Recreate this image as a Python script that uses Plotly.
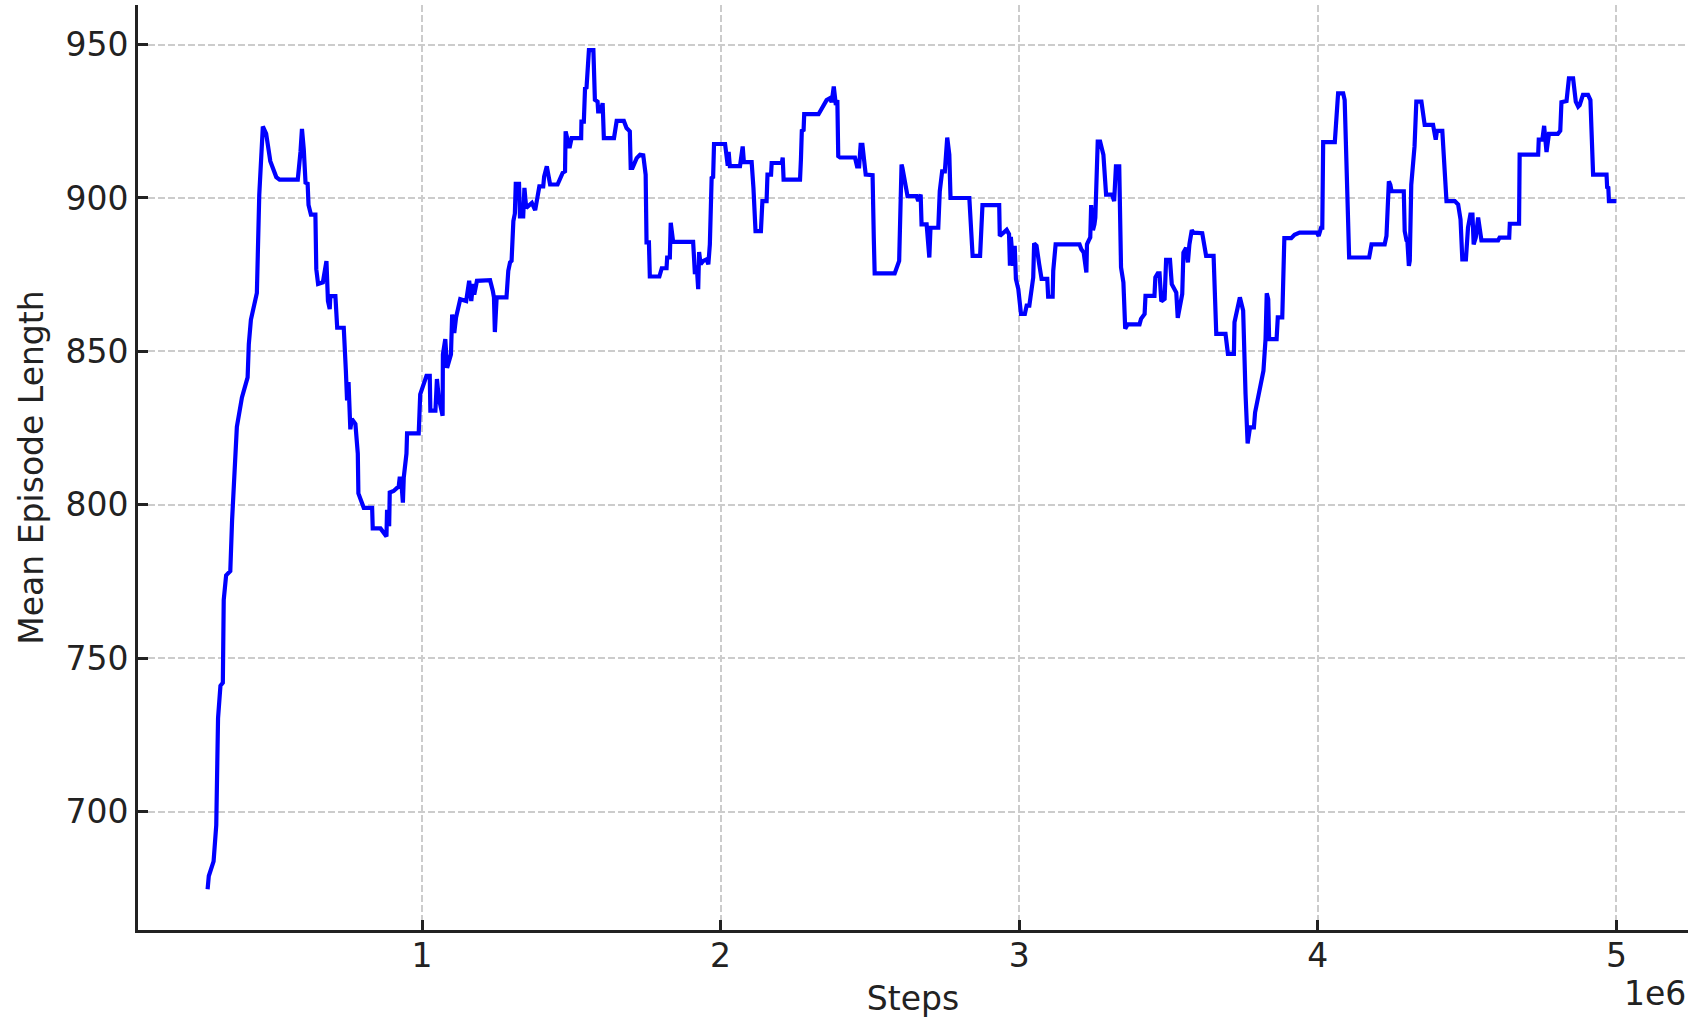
import plotly.graph_objects as go

# training curve (steps, mean episode length)
steps = [
    282000, 286000, 302000, 311000, 317000, 325000, 333000, 336000, 344000, 358000,
    364000, 380000, 397000, 416000, 420000, 427000, 447000, 455000, 467000, 478000,
    492000, 501000, 512000, 523000, 584000, 593000, 598000, 604000, 610000, 617000,
    620000, 628000, 643000, 646000, 652000, 668000, 680000, 685000, 691000, 693000,
    710000, 716000, 738000, 745000, 749000, 754000, 760000, 765000, 777000, 785000,
    787000, 805000, 833000, 835000, 861000, 881000, 883000, 890000, 892000, 905000,
    922000, 925000, 930000, 936000, 939000, 948000, 950000, 989000, 994000, 1015000,
    1026000, 1028000, 1045000, 1050000, 1056000, 1069000, 1070000, 1078000, 1084000, 1097000,
    1101000, 1108000, 1114000, 1128000, 1148000, 1158000, 1165000, 1171000, 1175000, 1184000,
    1228000, 1237000, 1241000, 1244000, 1250000, 1283000, 1289000, 1295000, 1300000, 1306000,
    1311000, 1314000, 1325000, 1328000, 1339000, 1343000, 1349000, 1368000, 1379000, 1393000,
    1406000, 1409000, 1418000, 1429000, 1454000, 1471000, 1479000, 1481000, 1494000, 1501000,
    1533000, 1534000, 1542000, 1546000, 1551000, 1559000, 1574000, 1579000, 1588000, 1590000,
    1598000, 1605000, 1609000, 1643000, 1652000, 1676000, 1685000, 1696000, 1699000, 1705000,
    1719000, 1730000, 1741000, 1749000, 1752000, 1760000, 1763000, 1795000, 1803000, 1819000,
    1821000, 1830000, 1833000, 1841000, 1908000, 1914000, 1920000, 1925000, 1928000, 1933000,
    1942000, 1953000, 1959000, 1964000, 1970000, 1975000, 1978000, 2015000, 2020000, 2024000,
    2027000, 2031000, 2065000, 2074000, 2078000, 2104000, 2110000, 2117000, 2135000, 2140000,
    2154000, 2157000, 2169000, 2171000, 2205000, 2208000, 2211000, 2266000, 2269000, 2272000,
    2278000, 2280000, 2328000, 2355000, 2366000, 2372000, 2379000, 2386000, 2391000, 2394000,
    2400000, 2450000, 2457000, 2464000, 2469000, 2475000, 2486000, 2509000, 2513000, 2516000,
    2583000, 2591000, 2598000, 2606000, 2609000, 2626000, 2656000, 2662000, 2670000, 2673000,
    2690000, 2699000, 2703000, 2729000, 2734000, 2742000, 2751000, 2759000, 2766000, 2770000,
    2833000, 2844000, 2869000, 2877000, 2933000, 2935000, 2958000, 2966000, 2969000, 2972000,
    2980000, 2985000, 2989000, 2997000, 3006000, 3019000, 3025000, 3034000, 3041000, 3047000,
    3050000, 3058000, 3067000, 3075000, 3094000, 3097000, 3112000, 3114000, 3122000, 3202000,
    3208000, 3216000, 3225000, 3227000, 3233000, 3238000, 3241000, 3247000, 3252000, 3255000,
    3263000, 3271000, 3282000, 3291000, 3311000, 3318000, 3324000, 3335000, 3341000, 3349000,
    3355000, 3363000, 3403000, 3408000, 3420000, 3423000, 3453000, 3456000, 3464000, 3470000,
    3476000, 3487000, 3492000, 3505000, 3511000, 3526000, 3531000, 3539000, 3546000, 3550000,
    3559000, 3565000, 3570000, 3578000, 3584000, 3613000, 3626000, 3651000, 3654000, 3660000,
    3691000, 3699000, 3719000, 3721000, 3739000, 3750000, 3758000, 3765000, 3773000, 3786000,
    3790000, 3806000, 3818000, 3825000, 3829000, 3834000, 3837000, 3862000, 3866000, 3881000,
    3888000, 3911000, 3922000, 3939000, 3997000, 4003000, 4011000, 4015000, 4018000, 4057000,
    4068000, 4085000, 4090000, 4105000, 4172000, 4180000, 4224000, 4230000, 4238000, 4243000,
    4247000, 4288000, 4291000, 4297000, 4300000, 4305000, 4308000, 4313000, 4324000, 4330000,
    4347000, 4358000, 4386000, 4395000, 4399000, 4417000, 4425000, 4431000, 4459000, 4470000,
    4478000, 4484000, 4496000, 4503000, 4511000, 4518000, 4522000, 4529000, 4537000, 4548000,
    4604000, 4609000, 4641000, 4643000, 4674000, 4676000, 4738000, 4740000, 4752000, 4758000,
    4766000, 4774000, 4804000, 4812000, 4816000, 4833000, 4841000, 4855000, 4864000, 4872000,
    4877000, 4888000, 4905000, 4913000, 4922000, 4967000, 4969000, 4973000, 4975000, 5000000,
]
mean_ep_len = [
    674.7, 679.0, 683.8, 695.6, 730.5, 741.0, 742.0, 769.0, 777.0, 778.4,
    795.0, 825.4, 835.0, 841.5, 852.4, 860.3, 869.0, 901.0, 923.3, 921.0,
    912.0, 910.0, 906.8, 906.0, 906.0, 915.0, 922.5, 916.0, 905.0, 904.7,
    897.7, 894.6, 894.6, 876.8, 872.0, 872.5, 879.4, 866.4, 863.8, 868.0,
    868.0, 857.7, 857.7, 843.7, 834.0, 840.0, 824.6, 828.0, 826.3, 816.7,
    803.7, 799.0, 799.0, 792.3, 792.3, 789.7, 798.4, 793.0, 804.0, 804.5,
    806.0, 808.5, 808.5, 800.7, 809.0, 816.7, 823.3, 823.3, 836.0, 842.0,
    842.0, 830.7, 830.7, 841.0, 835.0, 829.0, 849.0, 854.0, 844.6, 849.0,
    862.0, 856.0, 861.0, 867.0, 866.4, 873.0, 866.4, 872.0, 868.5, 873.0,
    873.2, 869.8, 867.6, 856.3, 867.6, 867.6, 876.3, 879.0, 879.5, 892.5,
    894.9, 904.6, 904.6, 894.0, 894.0, 903.3, 896.8, 898.4, 896.0, 903.8,
    903.8, 907.0, 910.3, 904.4, 904.4, 908.2, 908.7, 921.7, 916.3, 919.5,
    919.5, 924.9, 924.9, 935.7, 936.0, 948.2, 948.2, 932.0, 931.4, 928.2,
    928.2, 930.9, 919.5, 919.5, 925.1, 925.1, 922.8, 921.7, 909.8, 909.8,
    913.0, 914.1, 913.9, 907.6, 885.5, 885.5, 874.4, 874.4, 877.1, 877.1,
    880.6, 880.6, 891.9, 885.7, 885.7, 875.2, 878.0, 870.3, 882.4, 878.4,
    879.5, 880.0, 878.4, 884.9, 906.5, 906.8, 917.6, 917.6, 912.0, 910.5,
    915.0, 910.4, 910.4, 916.8, 911.7, 911.7, 903.3, 889.2, 889.2, 899.0,
    899.0, 907.6, 907.6, 911.4, 911.4, 913.2, 906.0, 906.0, 912.5, 921.9,
    922.2, 927.3, 927.3, 931.9, 932.5, 931.2, 936.3, 930.3, 931.9, 913.6,
    913.2, 913.2, 910.3, 910.3, 917.3, 917.3, 907.6, 907.4, 887.1, 875.4,
    875.4, 877.4, 879.5, 910.9, 909.8, 900.6, 900.6, 899.0, 901.1, 891.4,
    891.4, 880.6, 890.3, 890.3, 902.2, 908.7, 908.7, 919.7, 914.1, 900.0,
    900.0, 881.1, 881.1, 897.7, 897.7, 887.6, 889.6, 888.2, 877.9, 887.3,
    877.9, 884.4, 873.6, 870.3, 862.2, 862.2, 864.9, 864.9, 870.9, 874.1,
    885.2, 884.4, 878.4, 873.6, 873.6, 867.8, 867.8, 876.3, 884.9, 884.9,
    883.3, 882.2, 875.7, 884.9, 886.2, 887.1, 897.7, 889.5, 891.4, 893.6,
    918.4, 918.4, 914.1, 901.1, 901.1, 899.0, 910.3, 910.3, 877.4, 872.5,
    857.4, 858.8, 858.8, 860.6, 862.2, 868.1, 868.1, 874.1, 875.4, 875.4,
    866.3, 867.1, 879.8, 879.8, 871.9, 869.2, 860.9, 865.5, 868.7, 882.2,
    883.8, 879.0, 884.9, 889.5, 888.7, 888.5, 881.1, 881.1, 868.7, 855.7,
    855.7, 849.2, 849.2, 859.5, 867.6, 863.3, 836.1, 820.0, 825.2, 825.2,
    830.1, 837.7, 843.7, 854.0, 868.9, 867.0, 854.0, 854.0, 861.1, 861.1,
    886.9, 886.9, 888.0, 888.7, 888.7, 887.6, 890.3, 890.3, 918.2, 918.2,
    934.1, 934.1, 931.9, 880.6, 880.6, 884.9, 884.9, 887.6, 905.4, 904.3,
    902.2, 902.2, 889.2, 886.2, 886.0, 877.9, 879.5, 904.3, 916.8, 931.4,
    931.4, 923.8, 923.8, 919.0, 921.9, 921.9, 906.5, 899.0, 899.0, 897.9,
    893.0, 880.0, 880.0, 890.3, 894.6, 894.6, 884.9, 887.1, 893.6, 886.2,
    886.2, 887.1, 887.1, 891.6, 891.6, 914.1, 914.1, 919.0, 919.0, 923.5,
    915.0, 920.9, 920.9, 921.9, 931.2, 931.6, 939.0, 939.0, 931.4, 929.8,
    930.3, 933.6, 933.6, 931.9, 907.6, 907.6, 903.5, 903.3, 899.0, 899.0,
]

x_ticks = [1000000, 2000000, 3000000, 4000000, 5000000]
x_ticktext = ["1", "2", "3", "4", "5"]
y_ticks = [700, 750, 800, 850, 900, 950]

ink = "#222222"
fs = 33
fig = go.Figure()
fig.add_trace(go.Scatter(x=steps, y=mean_ep_len, mode="lines",
                         line=dict(color="#0000ff", width=4.2), showlegend=False))

axis_common = dict(
    showline=True, linecolor=ink, linewidth=3, mirror=False, automargin=False,
    ticks="inside", ticklen=10, tickwidth=2.5, tickcolor=ink,
    showgrid=True, gridcolor="#cccccc", gridwidth=1.5, griddash="7px,3px",
    zeroline=False, tickfont=dict(size=fs, color=ink),
)
fig.update_xaxes(range=[48900, 5239800], tickvals=x_ticks, ticktext=x_ticktext,
                 ticklabelstandoff=-6,
                 title=dict(text="Steps", font=dict(size=fs, color=ink), standoff=14),
                 **axis_common)
fig.update_yaxes(range=[661.4, 962.9], tickvals=y_ticks,
                 title=dict(text="Mean Episode Length", font=dict(size=fs, color=ink), standoff=12),
                 **axis_common)

fig.add_annotation(text="1e6", xref="paper", yref="paper", x=1.0, y=-0.069,
                   xanchor="right", yanchor="middle", showarrow=False,
                   font=dict(size=fs, color=ink))

fig.update_layout(
    width=1701, height=1026,
    margin=dict(l=138, r=13, t=5, b=96),
    paper_bgcolor="white", plot_bgcolor="white",
    font=dict(family="DejaVu Sans", size=fs, color=ink),
)

# drop the default 8px page margin so the figure sits at the window origin
fig.write_html("out.html", config={"displayModeBar": False},
               post_script="document.body.style.margin='0px';")
